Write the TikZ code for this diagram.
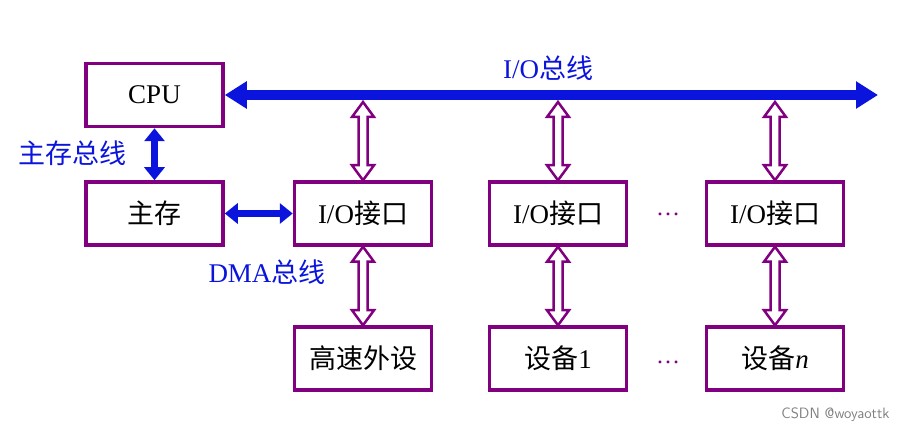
\documentclass[tikz,border=0pt]{standalone}
\usepackage{fontspec}
\setmainfont{Liberation Serif}
\newfontfamily\cjk{Noto Sans CJK SC}
\usetikzlibrary{arrows.meta,calc}
\definecolor{pur}{RGB}{128,0,128}
\definecolor{bl}{RGB}{10,20,220}
\tikzset{
 box/.style={draw=pur,line width=3.5pt,minimum width=137pt,minimum height=63pt,inner sep=0pt,font=\fontsize{27}{30}\selectfont},
 lbl/.style={text=bl,font=\fontsize{27}{30}\selectfont},
 bbus/.style={draw=bl,line width=10pt,{Triangle[length=22pt,width=26pt]}-{Triangle[length=22pt,width=26pt]}},
 bsmall/.style={draw=bl,line width=7pt,{Triangle[length=13pt,width=20pt]}-{Triangle[length=13pt,width=20pt]}},
 hol/.style={draw=pur,line width=2.5pt,fill=white,line join=miter}
}
\newcommand{\hollowarr}[2]{%
 \path let \p1=(#1), \p2=(#2) in
 [hol] (\x1,\y1) -- (\x1+11pt,\y1-15pt) -- (\x1+4.5pt,\y1-15pt) -- (\x1+4.5pt,\y2+15pt) -- (\x1+11pt,\y2+15pt)
 -- (\x1,\y2) -- (\x1-11pt,\y2+15pt) -- (\x1-4.5pt,\y2+15pt) -- (\x1-4.5pt,\y1-15pt) -- (\x1-11pt,\y1-15pt) -- cycle;}
\begin{document}
\begin{tikzpicture}[x=1pt,y=-1pt]
\useasboundingbox (0,0) rectangle (899,435);
\node[box] (cpu) at (154.5,95) {CPU};
\node[box] (mem) at (154.5,213.5) {\cjk 主存};
\node[box] (io1) at (363,213.5) {I/O{\cjk 接口}};
\node[box] (io2) at (558,213.5) {I/O{\cjk 接口}};
\node[box] (io3) at (775,213.5) {I/O{\cjk 接口}};
\node[box] (d1) at (363,358.5) {\cjk 高速外设};
\node[box] (d2) at (558,358.5) {{\cjk 设备}1};
\node[box] (d3) at (775,358.5) {{\cjk 设备}\textit{n}};
\coordinate (busend) at (878,95);
\draw[bbus] (cpu.east) -- (busend);
\node[lbl] (buslbl) at (548,68) {I/O{\cjk 总线}};
\draw[bsmall] (cpu.south) -- (mem.north);
\node[lbl] (mlbl) at (72,153) {\cjk 主存总线};
\draw[bsmall] (mem.east) -- (io1.west);
\node[lbl] (dlbl) at (267,272) {DMA{\cjk 总线}};
\coordinate (t1) at (363,102);
\coordinate (t2) at (558,102);
\coordinate (t3) at (775,102);
\hollowarr{t1}{io1.north}
\hollowarr{t2}{io2.north}
\hollowarr{t3}{io3.north}
\hollowarr{io1.south}{d1.north}
\hollowarr{io2.south}{d2.north}
\hollowarr{io3.south}{d3.north}
\node[text=pur,font=\fontsize{24}{26}\selectfont] (dots1) at (668,214) {\dots};
\node[text=pur,font=\fontsize{24}{26}\selectfont] (dots2) at (668,362) {\dots};
\node[text=gray,font=\fontsize{15}{17}\selectfont\sffamily,anchor=east] (wm) at (893,415) {CSDN @woyaottk};
\end{tikzpicture}
\end{document}
